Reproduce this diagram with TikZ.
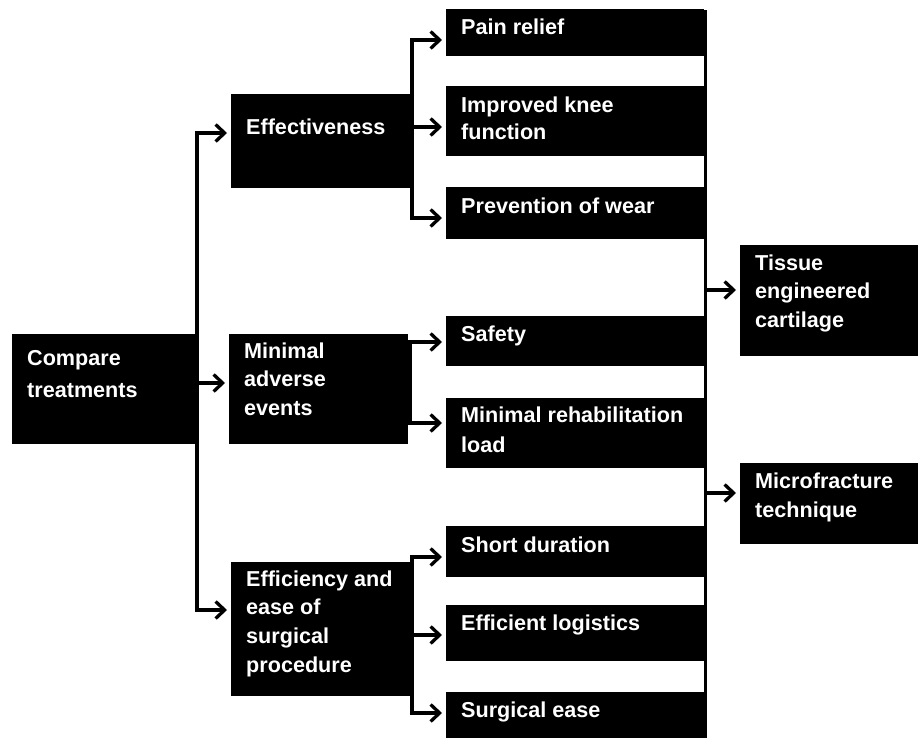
\documentclass[tikz,border=0pt]{standalone}
\usepackage{fontspec}
\setmainfont{Liberation Sans}
\usetikzlibrary{arrows.meta}
\tikzset{
  bx/.style={fill=black, text=white, draw=none, anchor=north west, inner sep=0pt, font=\bfseries},
  ln/.style={line width=3.3pt, line cap=rect, draw=black},
  arr/.style={line width=3.3pt, draw=black, -{Straight Barb[length=9pt,width=17pt]}, shorten >=4pt},
}
% name, x, ytop, w, h, first-baseline offset, baselineskip, text
\newcommand\boxnode[8]{%
  \node[bx] (#1) at (#2pt,-#3pt) {\parbox[c][#5pt][t]{#4pt}{\leftskip=15pt\fontsize{21.6}{#7}\selectfont\rule{0pt}{#6pt}#8}};}
\begin{document}
\begin{tikzpicture}[x=1pt,y=1pt]
\useasboundingbox (0,0) rectangle (918,-738);
\fill[white] (0,0) rectangle (918,-738);
% boxes
\boxnode{cmp}{12}{334}{185}{110}{31}{32}{Compare\\treatments}
\boxnode{eff}{231}{94}{180}{94}{40}{28.5}{Effectiveness}
\boxnode{mae}{229}{334}{179}{110}{24}{28.5}{Minimal\\adverse\\events}
\boxnode{esp}{231}{562}{179}{134}{24}{28.7}{Efficiency and\\ease of\\surgical\\procedure}
\boxnode{pain}{446}{9}{258}{47}{25}{28.5}{Pain relief}
\boxnode{knee}{446}{86}{258}{70}{26}{27}{Improved knee\\function}
\boxnode{prev}{446}{187}{258}{52}{26}{28.5}{Prevention of wear}
\boxnode{safe}{446}{316}{258}{50}{25}{28.5}{Safety}
\boxnode{rehab}{446}{398}{258}{70}{24}{30}{Minimal rehabilitation\\load}
\boxnode{short}{446}{526}{258}{51}{26}{28.5}{Short duration}
\boxnode{logi}{446}{605}{258}{56}{25}{28.5}{Efficient logistics}
\boxnode{surg}{446}{692}{258}{46}{25}{28.5}{Surgical ease}
\boxnode{tissue}{740}{245}{178}{111}{25}{28.5}{Tissue\\engineered\\cartilage}
\boxnode{micro}{740}{463}{178}{81}{25}{29}{Microfracture\\technique}
% left trunk
\coordinate (L1) at (197,-133);
\coordinate (L2) at (197,-610);
\draw[ln] (L1) -- (L2);
\draw[arr] (L1) -- (L1 -| eff.west);
\draw[arr] (L2) -- (L2 -| esp.west);
\draw[arr] ([yshift=-49pt]cmp.north east) -- ([yshift=-49pt]mae.north west);
% effectiveness branch
\coordinate (E1) at (412,-40);
\coordinate (E2) at (412,-127);
\coordinate (E3) at (412,-218);
\draw[ln] (E1) -- (E3);
\draw[arr] (E1) -- (E1 -| pain.west);
\draw[arr] (E2) -- (E2 -| knee.west);
\draw[arr] (E3) -- (E3 -| prev.west);
% minimal adverse events branch
\coordinate (M1) at (410,-342);
\coordinate (M2) at (410,-423);
\draw[ln] (M1) -- (M2);
\draw[arr] (M1) -- (M1 -| safe.west);
\draw[arr] (M2) -- (M2 -| rehab.west);
% efficiency branch
\coordinate (S1) at (412,-557);
\coordinate (S2) at (412,-635);
\coordinate (S3) at (412,-713);
\draw[ln] (S1) -- (S3);
\draw[arr] (S1) -- (S1 -| short.west);
\draw[arr] (S2) -- (S2 -| logi.west);
\draw[arr] (S3) -- (S3 -| surg.west);
% right trunk
\coordinate (R0) at (705.5,-10);
\coordinate (R9) at (705.5,-738);
\coordinate (RT) at (705.5,-290);
\coordinate (RM) at (705.5,-493);
\draw[line width=3.3pt] (R0) -- (R9);
\draw[arr] (RT) -- (RT -| tissue.west);
\draw[arr] (RM) -- (RM -| micro.west);
\end{tikzpicture}
\end{document}
